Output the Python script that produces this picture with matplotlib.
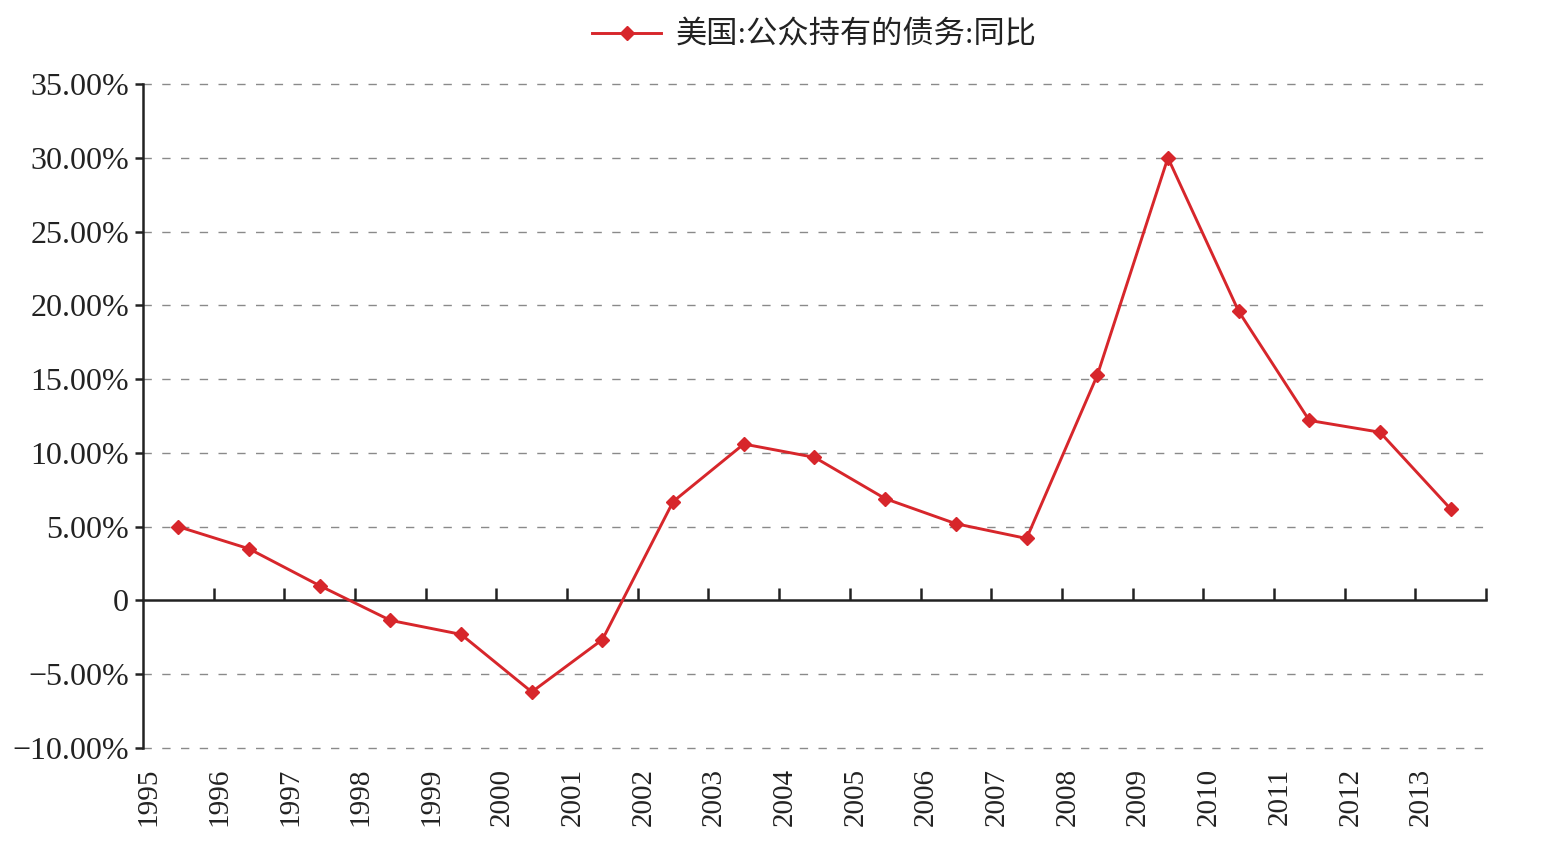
import matplotlib
matplotlib.use("Agg")
import matplotlib.pyplot as plt
from matplotlib.lines import Line2D

years = ["1995", "1996", "1997", "1998", "1999", "2000", "2001", "2002", "2003", "2004",
         "2005", "2006", "2007", "2008", "2009", "2010", "2011", "2012", "2013"]
values = [5.0, 3.5, 1.0, -1.35, -2.3, -6.2, -2.65, 6.7, 10.6, 9.7,
          6.9, 5.2, 4.2, 15.25, 30.0, 19.6, 12.2, 11.4, 6.2]
yticks = [-10, -5, 0, 5, 10, 15, 20, 25, 30, 35]
series_name = "美国:公众持有的债务:同比"

serif = ["Liberation Serif", "Noto Sans CJK SC"]
red = "#d7262b"
ink = "#222222"

fig = plt.figure(figsize=(15.6, 8.59), dpi=100)
ax = fig.add_axes([143 / 1560, 1 - 748 / 859, (1486 - 143) / 1560, (748 - 84) / 859])

n = len(years)
xs = [i + 0.5 for i in range(n)]
ax.plot(xs, values, color=red, lw=2.1, marker="D", ms=7, mfc=red, mec=red, zorder=3)

ax.set_xlim(0, n)
ax.set_ylim(min(yticks), max(yticks))

# grid
for v in yticks:
    if v != 0:
        ax.axhline(v, color="#8a8a8a", lw=1.0, ls=(0, (6, 7.5)), zorder=1, clip_on=False)

for s in ["top", "right"]:
    ax.spines[s].set_visible(False)
ax.spines["bottom"].set_position(("data", 0))
for s in ["bottom", "left"]:
    ax.spines[s].set_linewidth(1.8)
    ax.spines[s].set_color(ink)

ax.set_yticks(yticks)
ax.set_yticklabels([("0" if v == 0 else f"{v:.2f}%".replace("-", "\u2212")) for v in yticks],
                   fontfamily=serif, fontsize=23, color=ink)
ax.tick_params(axis="y", direction="out", length=6, width=1.8, color=ink, pad=4)

ax.set_xticks(range(1, n + 1))
ax.set_xticklabels([])
ax.tick_params(axis="x", direction="in", length=9, width=1.8, color=ink)

for i, y in enumerate(years):
    ax.text(i + 0.08, -0.03, y, transform=ax.get_xaxis_transform(), rotation=90,
            ha="center", va="top", fontfamily=serif, fontsize=21, color=ink)

handle = Line2D([], [], color=red, lw=2.1, marker="D", ms=7, mfc=red, mec=red)
fig.legend([handle], [series_name], loc="center", bbox_to_anchor=(0.522, 1 - 36 / 859),
           frameon=False, prop={"family": serif, "size": 22.5}, handlelength=2.2,
           handletextpad=0.45, labelcolor=ink)

fig.savefig("out.png", dpi=100)
